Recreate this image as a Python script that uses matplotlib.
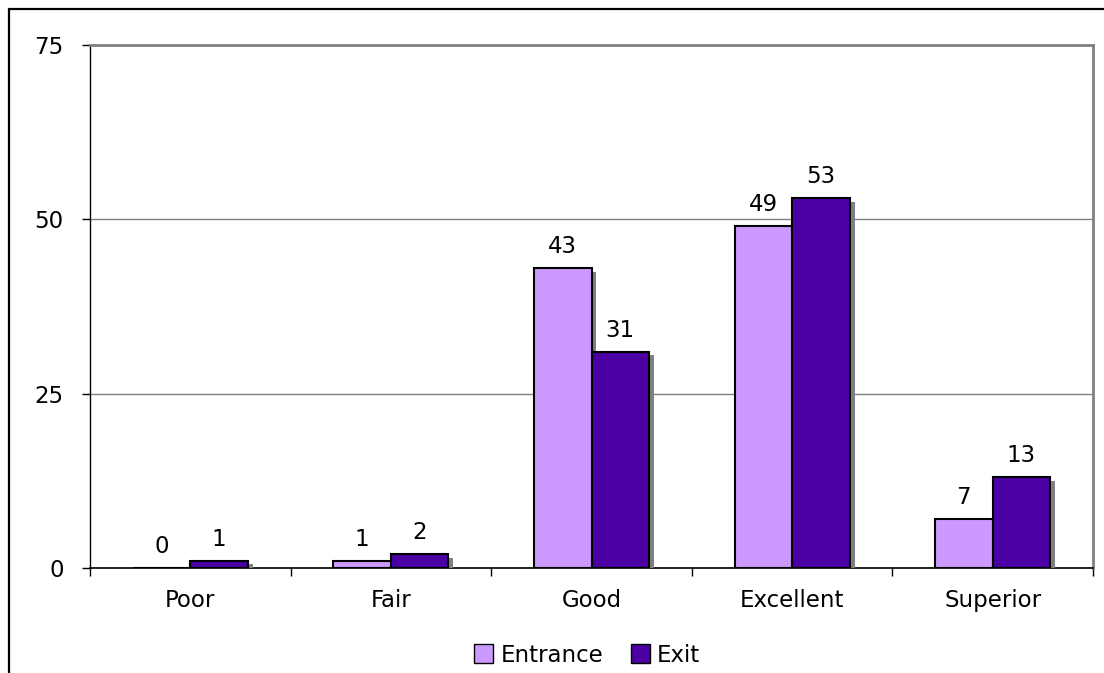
import matplotlib
matplotlib.use('Agg')
import matplotlib.pyplot as plt
import matplotlib.patheffects as pe
from matplotlib.patches import Rectangle, Patch
import numpy as np

categories = ['Poor', 'Fair', 'Good', 'Excellent', 'Superior']
entrance = [0, 1, 43, 49, 7]
exit_vals = [1, 2, 31, 53, 13]
yticks = [0, 25, 50, 75]

c_entr = '#cc99ff'
c_exit = '#4a00a3'

plt.rcParams['font.family'] = 'DejaVu Sans'
plt.rcParams['font.size'] = 16.5

fig = plt.figure(figsize=(11.04, 6.73), dpi=100)
ax = fig.add_axes([90/1104, 1 - 568/673, (1093 - 90)/1104, (568 - 45)/673])

x = np.arange(len(categories))
w = 0.287
shadow = [pe.SimplePatchShadow(offset=(3.5, -2.5), shadow_rgbFace='#808080', alpha=1.0), pe.Normal()]

b1 = ax.bar(x - w/2, entrance, w, color=c_entr, edgecolor='black', linewidth=1.5,
            path_effects=shadow, zorder=3)
b2 = ax.bar(x + w/2, exit_vals, w, color=c_exit, edgecolor='black', linewidth=1.5,
            path_effects=shadow, zorder=3)

# value labels above each bar
for bars, vals in ((b1, entrance), (b2, exit_vals)):
    for rect, v in zip(bars, vals):
        ax.annotate(str(v), (rect.get_x() + rect.get_width()/2, v),
                    xytext=(0, 11), textcoords='offset points',
                    ha='center', va='baseline', zorder=4)

ax.set_xlim(-0.5, len(categories) - 0.5)
ax.set_ylim(0, 75)
ax.set_yticks(yticks)
ax.set_xticks(x)
ax.set_xticklabels(categories)
ax.set_xticks(np.arange(-0.5, len(categories)), minor=True)
ax.tick_params(axis='x', which='major', length=0, pad=15)
ax.tick_params(axis='x', which='minor', length=6, width=1, direction='out')
ax.tick_params(axis='y', length=6, width=1, pad=13)

ax.yaxis.grid(True, color='#808080', linewidth=1, zorder=0)
ax.set_axisbelow(True)
for s in ('top', 'right'):
    ax.spines[s].set_color('#808080')
    ax.spines[s].set_linewidth(2)
ax.spines['left'].set_color('black')
ax.spines['bottom'].set_color('black')
ax.spines['left'].set_linewidth(1)
ax.spines['bottom'].set_linewidth(1.2)

handles = [Patch(facecolor=c_entr, edgecolor='black', linewidth=1),
           Patch(facecolor=c_exit, edgecolor='black', linewidth=1)]
fig.legend(handles=handles, labels=['Entrance', 'Exit'], loc='center',
           bbox_to_anchor=(587/1104, 1 - 655/673), ncol=2, frameon=False,
           handlelength=0.85, handleheight=0.85, handletextpad=0.3, columnspacing=1.2)

# outer border, clipped at the right and bottom like the reference
fig.patches.append(Rectangle((8.5/1104, -0.1), 1.2, 1.1 - 9.5/673,
                             transform=fig.transFigure, fill=False,
                             edgecolor='black', linewidth=1.6, clip_on=False))

fig.savefig('out.png', dpi=100)
